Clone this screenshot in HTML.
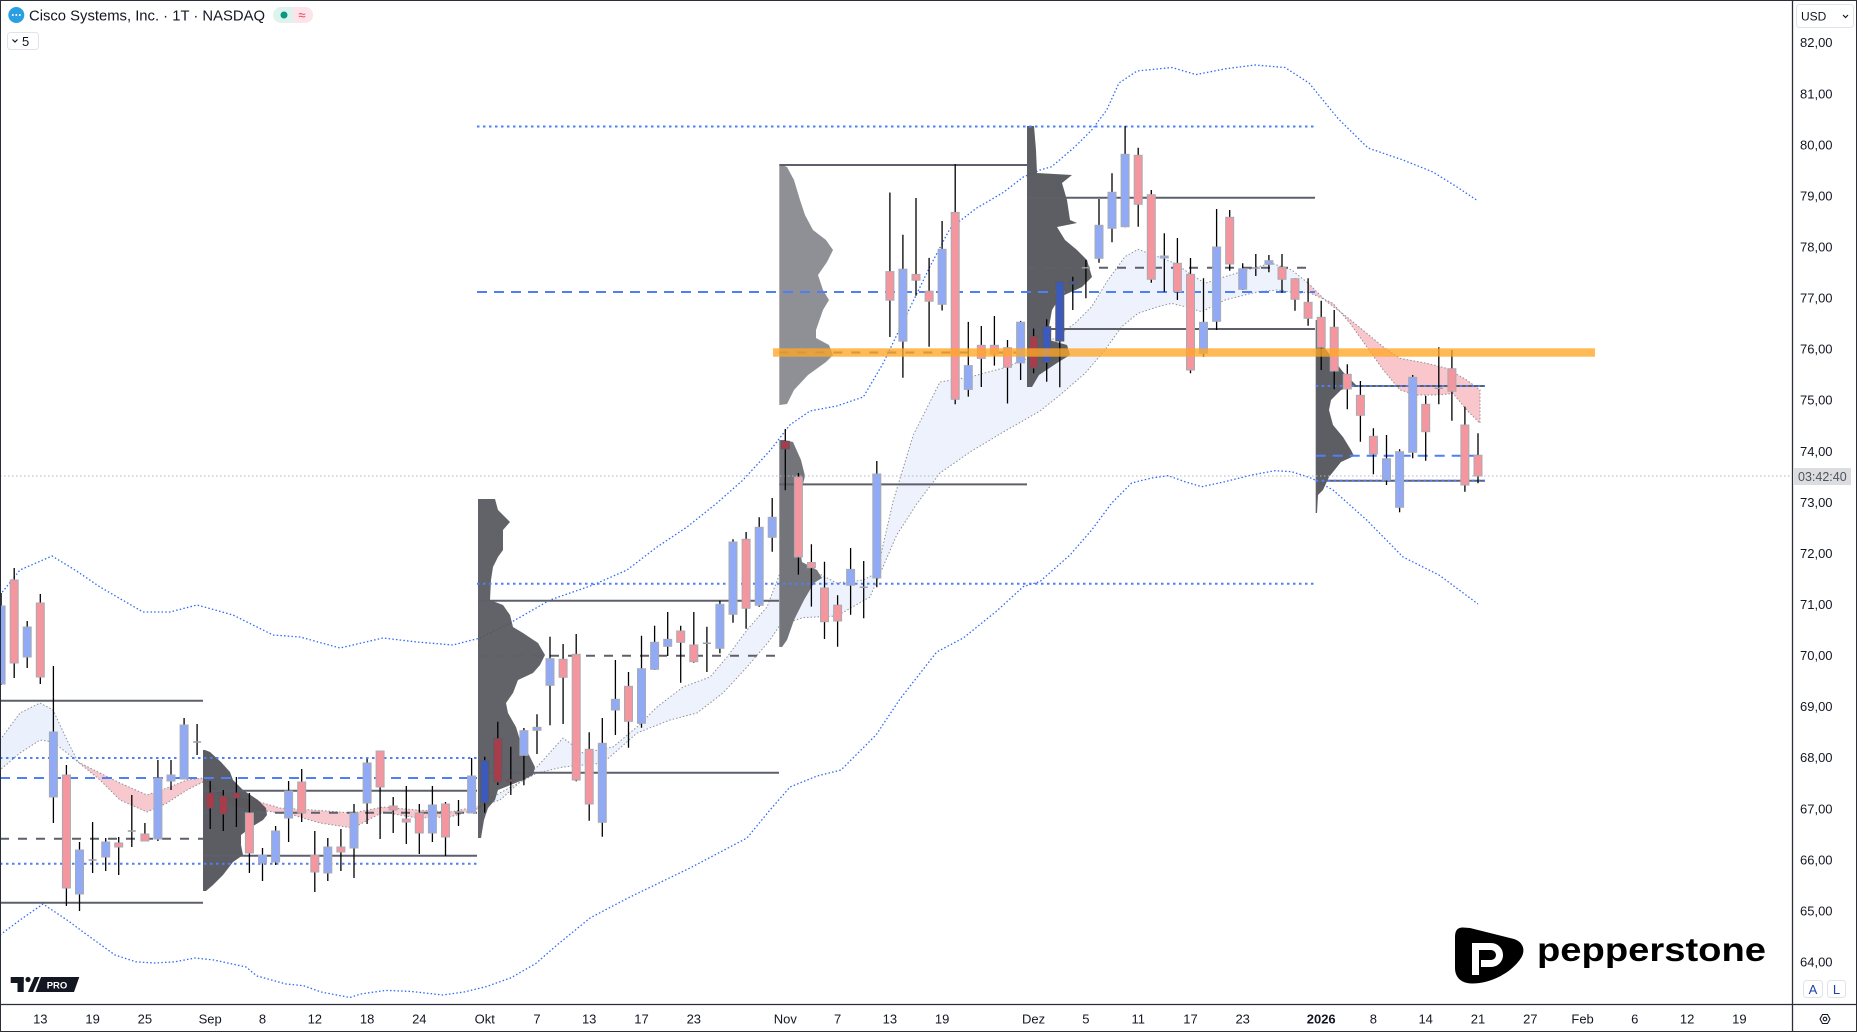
<!DOCTYPE html>
<html><head><meta charset="utf-8"><style>
html,body{margin:0;padding:0;background:#fff;overflow:hidden}
svg{display:block}
text{font-family:"Liberation Sans",Arial,sans-serif}
</style></head><body>
<svg width="1857" height="1032" viewBox="0 0 1857 1032" xmlns="http://www.w3.org/2000/svg">
<defs><clipPath id="c"><rect x="0" y="0" width="1792" height="1004"/></clipPath></defs>
<rect x="0" y="0" width="1857" height="1032" fill="#fff"/>
<g clip-path="url(#c)">
<!-- clouds -->
<g stroke="#8e9099" stroke-width="1" stroke-dasharray="1.5 2">
<polygon fill="#eaf0fc" points="0,740 20,713 40,703 53,710 67,740 78,762 67,753 53,742 40,740 20,753 0,770"/>
<polygon fill="#f7c9ce" points="78,762 100,773 120,783 147,795 167,788 187,780 203,778 227,798 253,800 280,808 313,810 353,813 383,807 417,810 450,812 480,806 480,808 450,817 417,818 383,812 353,828 320,823 293,815 260,810 233,806 203,782 187,790 167,803 147,812 120,800 100,780"/>
<polygon fill="#eef2fc" points="480,806 500,800 537,767 563,738 583,753 613,747 637,727 657,707 683,687 710,677 727,657 747,630 767,607 780,573 810,569 836.7,583 863.3,580 876.7,573 893.3,500.5 913.3,435 940,382 970,377 1003.3,368 1033.3,356 1051.7,340 1075,323.3 1091.7,306.7 1108,280 1125,256.7 1138,249.3 1158,256.7 1175,263.3 1191.7,275 1205,283.3 1225,276.7 1258,266.7 1271.7,263.3 1291.7,270 1308,283 1308,292 1298,293.3 1278,290 1258,291.7 1225,300 1201.7,311.7 1185,306.7 1171.7,303.3 1158,306.7 1138,313.3 1121.7,326.7 1105,350 1085,373.3 1058,396.7 1040,411 1003.3,432 970,452 940,473 916.7,504 896.7,535 870,597 836.7,616 803.3,617.6 780,625 770,640 747,667 723,693 697,713 670,720 637,733 603,763 563,767 537,773 487,800 480,808"/>
<polygon fill="#f8c6cb" points="1308,283 1326.7,301.7 1346.7,316.7 1366.7,333.3 1383,346.7 1400,358.3 1426.7,363.3 1446.7,368.3 1466.7,380 1480,390 1480,423.3 1466.7,410 1453,393.3 1440,395 1416.7,395 1400,390 1383.3,370 1366.7,346.7 1350,323.3 1333,303.3 1308,292"/>
</g>
<!-- bands -->
<g fill="none" stroke="#2f6af5" stroke-width="1.3" stroke-dasharray="1.5 2.2">
<polyline points="0,595 20,570 52,556 75,570 100,587 143,612 170,612 197,605 233,615 273,635 300,637 340,648 383,638 417,642 453,645 480,638 510,623 550,600 593,585 627,570 657,547 687,527 717,503 743,480 770,450.6 790,424.8 810,411 836.7,406 863.3,397 883.3,363 903.3,321.5 930,266.5 950,228.6 976.7,208 1003.3,192.5 1023.3,177 1040,170 1051.7,166.7 1075,146.7 1091.7,130 1106.7,110 1119,83 1137,71 1172,67.5 1196,74.6 1226,68.7 1255,65 1285,67.5 1309,83 1338,118.5 1368,148 1403,160 1433,172 1457,187 1478,201"/>
<polyline points="0,935 20,920 43,904 67,920 90,937 115,955 135.7,961.8 155,963 175,961.8 195,958 214,960 246,967 257,976 286,984 303.6,985.7 321,992 350,997.5 360.7,994 385.7,990.4 410.7,991.4 442.9,995 464,992 485.7,986.8 510.7,977.9 535.7,963.6 557,945 590,918 628,898 690,868 747,838 770,810 790,787 817,776 841,770 876,735 900,699 936.7,652 963.3,638 996.7,611 1023.3,586.6 1040,581.5 1070,555 1091.7,530 1111.7,503 1131.7,483 1151.7,478 1168,475.7 1185,481.7 1201.7,486.7 1225,481.7 1251.7,475 1275,470.7 1291.7,471.7 1311.7,478.3 1333,490 1366.7,520 1403,557 1439,575 1478,604"/>
</g>
<!-- profiles -->
<path fill="#4e4f55" fill-opacity="0.92" d="M203,750 L205,750 L210,752 L221,762 L230,772 L233,780 L243,790 L258,800 L266,808 L267,815 L263,820 L250,828 L241,835 L241,845 L243,855 L233,862 L223,875 L213,885 L206,891 L203,891 Z"/>
<path fill="#55565c" fill-opacity="0.92" d="M478,499 L495,499 L498,510 L510,522 L503,530 L503,550 L498,557 L493,567 L491,580 L490,600 L503,605 L510,615 L513,627 L523,633 L538,643 L545,655 L540,665 L533,673 L518,680 L513,693 L506,703 L508,713 L516,727 L520,740 L528,753 L535,767 L533,775 L523,780 L498,790 L495,800 L488,808 L484,820 L481,838 L478,838 Z"/>
<path fill="#8f9095" d="M779.3,165 L782,165 L787,167 L794,180 L800,200 L805,215 L813,230 L826,240 L833,250 L827,262 L818,275 L823,290 L829,300 L823,310 L816,330 L816,338 L829,345 L833,355 L826,362 L808,375 L794,390 L787,404 L779.3,405 Z"/>
<path fill="#74757b" d="M779.3,440 L784,440 L793,442 L801,460 L805,476 L799,500 L797,530 L802,562 L817,570 L822,578 L814,583 L804,600 L794,620 L787,640 L782,647 L779.3,647 Z"/>
<path fill="#54555b" fill-opacity="0.95" d="M1027,126 L1034,126 L1036,150 L1037,173 L1072,175 L1062,183 L1067,200 L1070,220 L1077,223 L1057,227 L1065,240 L1077,250 L1087,260 L1089,267 L1092,277 L1082,287 L1060,297 L1052,310 L1049,327 L1049,340 L1067,345 L1070,355 L1057,363 L1039,375 L1032,387 L1027,387 Z"/>
<path fill="#54555b" fill-opacity="0.95" d="M1315.7,320 L1318,320 L1321,335 L1324,347 L1334,360 L1343,372 L1351,380 L1356,385 L1341,390 L1331,400 L1329,410 L1333,425 L1343,437 L1351,450 L1354,456 L1341,462 L1329,477 L1323,490 L1318,495 L1317,513 L1315.7,513 Z"/>
<!-- level lines -->
<g stroke="#5d606b" stroke-width="2" fill="none">
<path d="M0,700.7H203 M0,902.7H203 M203,790.7H477 M203,855.7H477 M478,600.7H779 M478,772.7H779 M779.3,165H1027 M779.3,484.4H1027 M1027,197.7H1315 M1027,329H1315 M1315.7,386H1485 M1315.7,480.7H1485"/>
<path stroke-dasharray="9 9" d="M0,838.7H203 M203,812.7H477 M478,655.7H779 M779.3,352.5H1027 M1027,267.7H1315"/>
</g>
<g stroke="#4f7ff5" stroke-width="2" fill="none">
<path stroke-dasharray="2.5 3.5" d="M0,758H477 M0,863.7H477 M477,583.7H1315 M477,126.5H1315 M1315.7,386H1485 M1315.7,480.7H1485"/>
<path stroke-dasharray="10 7" d="M0,778H477 M477,292H1315 M1315.7,455.7H1485"/>
</g>
<!-- price line -->
<path d="M0,476H1792" stroke="#b2b5be" stroke-width="1" stroke-dasharray="1.5 2.5"/>
<!-- wicks -->
<path fill="none" stroke="#000" stroke-width="1.3" d="M1.1,593V685 M14.2,568V678 M27.2,621V668 M40.3,594V684 M53.4,666V823 M66.4,765V906 M79.5,842V911 M92.6,822V873 M105.7,838V871 M118.7,837V875 M131.8,795V847 M144.9,823V841 M157.9,760V841 M171,760V790 M184.1,718V779 M197.1,724V755 M210.2,781V829 M223.3,790V831 M236.4,777V827 M249.4,793V873 M262.5,848V881 M275.6,826V865 M288.6,781V842 M301.7,769V822 M314.8,831V892 M327.8,838V881 M340.9,829V871 M354,804V878 M367.1,759V824 M380.1,751V839 M393.2,797V833 M406.3,786V844 M419.3,804V854 M432.4,786V842 M445.5,802V856 M458.5,800V826 M471.6,758V813 M484.7,756.7V812.7 M497.8,721.7V785 M510.8,746.7V795 M523.9,728V785.3 M537,714.3V754 M550,636.7V725.3 M563.1,644V724 M576.2,634V781.3 M589.2,732.3V820.7 M602.3,718V836.7 M615.4,660V735 M628.5,672V747.7 M641.5,635.7V727.7 M654.6,625.7V670 M667.7,612V656 M680.7,625.7V682.7 M693.8,612V662.7 M706.9,626.7V672 M719.9,600.7V653.3 M733,539.3V622.7 M746.1,532V628.7 M759.2,517.3V606.7 M772.2,498V551.7 M785.3,429V490.2 M798.4,473V574.6 M811.4,544.3V606.6 M824.5,561.8V639 M837.6,595.2V646.8 M850.6,548V614.8 M863.7,561V618.3 M876.8,461V587.3 M889.9,192.5V337 M902.9,234.8V377.7 M916,198V295.7 M929.1,257.9V346.7 M942.1,221V310.5 M955.2,164.2V404.2 M968.3,321.9V396.6 M981.3,326V387 M994.4,316V365.6 M1007.5,340V403.5 M1020.6,320.9V380 M1033.6,328.5V373.2 M1046.7,319.3V381.7 M1059.8,281.7V387.3 M1072.8,276.7V310 M1085.9,260V298.3 M1099,199V262.7 M1112,173.3V242.3 M1125.1,126V227.3 M1138.2,147.7V226.7 M1151.3,190V282.7 M1164.3,233.3V291.7 M1177.4,238V300 M1190.5,258V373.3 M1203.5,278.3V356.7 M1216.6,209V330 M1229.7,210V270.7 M1242.7,263.3V290 M1255.8,254V276 M1268.9,255V272.3 M1282,254V292.7 M1295,278.3V310.7 M1308.1,278.3V325.7 M1321.2,300.7V370 M1334.2,310V389.3 M1347.3,364.3V409.3 M1360.4,381V441.7 M1373.4,428.3V474.3 M1386.5,435V485 M1399.6,449.3V512.3 M1412.7,375V458.3 M1425.7,395.7V460.7 M1438.8,347.3V404.3 M1451.9,350V420.7 M1464.9,406.7V491.7 M1478,433.3V483.3"/>
<!-- blue bodies -->
<g fill="#91aaf6" stroke="#a9abb3" stroke-width="1">
<rect x="-2.9" y="606" width="8" height="78"/><rect x="23.2" y="627" width="8" height="30"/><rect x="49.4" y="732" width="8" height="65"/><rect x="75.5" y="850" width="8" height="44"/><rect x="101.7" y="842" width="8" height="15"/><rect x="153.9" y="778" width="8" height="61"/><rect x="167" y="775" width="8" height="6"/><rect x="180.1" y="725" width="8" height="54"/><rect x="258.5" y="855" width="8" height="8"/><rect x="271.6" y="831" width="8" height="31"/><rect x="284.6" y="791" width="8" height="27"/><rect x="323.8" y="847" width="8" height="26"/><rect x="350" y="813" width="8" height="35"/><rect x="363.1" y="763" width="8" height="40"/><rect x="428.4" y="805" width="8" height="28"/><rect x="467.6" y="776" width="8" height="37"/><rect x="519.9" y="730.7" width="8" height="24.6"/><rect x="533" y="727.3" width="8" height="3"/><rect x="546" y="658.7" width="8" height="26.6"/><rect x="598.3" y="743.3" width="8" height="79"/><rect x="611.4" y="699.3" width="8" height="10.7"/><rect x="637.5" y="668.7" width="8" height="54.6"/><rect x="650.6" y="642.3" width="8" height="27"/><rect x="663.7" y="639.3" width="8" height="7"/><rect x="715.9" y="604.3" width="8" height="44"/><rect x="729" y="542" width="8" height="72.3"/><rect x="755.2" y="527.3" width="8" height="78"/><rect x="768.2" y="517.3" width="8" height="20"/><rect x="846.6" y="569.4" width="8" height="15.8"/><rect x="872.8" y="474" width="8" height="104"/><rect x="898.9" y="269.2" width="8" height="72"/><rect x="938.1" y="249.3" width="8" height="55"/><rect x="964.3" y="365.6" width="8" height="23.8"/><rect x="1016.6" y="322.2" width="8" height="40.7"/><rect x="1095" y="225.3" width="8" height="33"/><rect x="1108" y="192.3" width="8" height="36"/><rect x="1121.1" y="154.3" width="8" height="72.4"/><rect x="1160.3" y="256" width="8" height="2"/><rect x="1199.5" y="322.3" width="8" height="31"/><rect x="1212.6" y="247" width="8" height="74.3"/><rect x="1238.7" y="268.7" width="8" height="20.6"/><rect x="1264.9" y="260.7" width="8" height="3.6"/><rect x="1382.5" y="458.7" width="8" height="21.3"/><rect x="1395.6" y="451.7" width="8" height="55.6"/><rect x="1408.7" y="377.3" width="8" height="75"/>
</g>
<!-- pink bodies -->
<g fill="#f5969f" stroke="#a9abb3" stroke-width="1">
<rect x="10.2" y="580" width="8" height="83"/><rect x="36.3" y="603" width="8" height="74"/><rect x="62.4" y="775" width="8" height="113"/><rect x="114.7" y="843" width="8" height="4"/><rect x="140.9" y="834" width="8" height="7"/><rect x="245.4" y="813" width="8" height="40"/><rect x="297.7" y="782" width="8" height="31"/><rect x="310.8" y="855" width="8" height="17"/><rect x="336.9" y="847" width="8" height="5"/><rect x="376.1" y="751" width="8" height="36"/><rect x="389.2" y="806" width="8" height="4"/><rect x="402.3" y="819" width="8" height="3"/><rect x="415.3" y="813" width="8" height="20"/><rect x="441.5" y="804" width="8" height="33"/><rect x="559.1" y="659.3" width="8" height="18"/><rect x="572.2" y="654.3" width="8" height="125.7"/><rect x="585.2" y="749.3" width="8" height="54.7"/><rect x="624.5" y="686.3" width="8" height="35"/><rect x="676.7" y="631" width="8" height="11.3"/><rect x="689.8" y="645" width="8" height="16.7"/><rect x="742.1" y="539.3" width="8" height="69"/><rect x="794.4" y="477.1" width="8" height="79.9"/><rect x="807.4" y="562.5" width="8" height="5.2"/><rect x="820.5" y="588" width="8" height="33.7"/><rect x="833.6" y="605.2" width="8" height="15.8"/><rect x="885.9" y="271.6" width="8" height="28.6"/><rect x="912" y="274.4" width="8" height="5.8"/><rect x="925.1" y="291.2" width="8" height="10"/><rect x="951.2" y="212.4" width="8" height="186.9"/><rect x="977.3" y="345.3" width="8" height="13.1"/><rect x="990.4" y="345.3" width="8" height="8.9"/><rect x="1003.5" y="347.7" width="8" height="19.6"/><rect x="1134.2" y="155.3" width="8" height="49"/><rect x="1147.3" y="194.7" width="8" height="84.6"/><rect x="1173.4" y="263.3" width="8" height="28.4"/><rect x="1186.5" y="274.3" width="8" height="95.7"/><rect x="1225.7" y="217.3" width="8" height="46.7"/><rect x="1278" y="267.3" width="8" height="12"/><rect x="1291" y="278.7" width="8" height="20.6"/><rect x="1304.1" y="302.3" width="8" height="16"/><rect x="1317.2" y="317.3" width="8" height="30"/><rect x="1330.2" y="327.3" width="8" height="43.7"/><rect x="1343.3" y="374.3" width="8" height="14.7"/><rect x="1356.4" y="395.3" width="8" height="20"/><rect x="1369.4" y="436.3" width="8" height="17.7"/><rect x="1421.7" y="404.3" width="8" height="27.4"/><rect x="1447.9" y="368.7" width="8" height="22.6"/><rect x="1460.9" y="425" width="8" height="60"/><rect x="1474" y="455.3" width="8" height="20.7"/>
</g>
<!-- dark bodies -->
<g fill="#a83c4b" stroke="#5a5a60" stroke-width="1">
<rect x="206.2" y="793" width="8" height="15"/><rect x="219.3" y="796" width="8" height="18"/><rect x="232.4" y="793" width="8" height="5"/><rect x="493.8" y="738.7" width="8" height="43.3"/><rect x="506.8" y="779.7" width="8" height="1.6"/><rect x="781.3" y="441.3" width="8" height="7.6"/><rect x="1029.6" y="336.5" width="8" height="31.5"/>
</g>
<g fill="#3c5abe" stroke="#5a5a60" stroke-width="1">
<rect x="480.7" y="760.7" width="8" height="42"/><rect x="1042.7" y="326.7" width="8" height="35.6"/><rect x="1055.8" y="281.7" width="8" height="59.3"/><rect x="1068.8" y="281.7" width="8" height="2.3"/>
</g>
<!-- doji -->
<path stroke="#9a9ca4" stroke-width="1.5" d="M88.6,860h8 M127.8,831h8 M193.1,742h8 M454.5,812h8 M702.9,643.3h8 M859.7,587.3h8 M1081.9,267.7h8 M1251.8,268h8 M1434.8,388.3h8"/>
<!-- orange band -->
<rect x="773" y="348.3" width="822" height="8.4" fill="#ffa726" fill-opacity="0.78"/>
</g>

<!-- frame & axes -->
<rect x="0.5" y="0.5" width="1856" height="1031" fill="none" stroke="#2a2e39" stroke-width="1"/>
<path d="M1792.5,0V1032 M0,1004.5H1857" stroke="#2a2e39" stroke-width="1.3"/>

<!-- price labels -->
<g font-size="13" fill="#131722">
<text x="1800" y="47.2">82,00</text><text x="1800" y="98.3">81,00</text><text x="1800" y="149.3">80,00</text><text x="1800" y="200.4">79,00</text><text x="1800" y="251.5">78,00</text><text x="1800" y="302.6">77,00</text><text x="1800" y="353.6">76,00</text><text x="1800" y="404.7">75,00</text><text x="1800" y="455.8">74,00</text><text x="1800" y="506.8">73,00</text><text x="1800" y="557.9">72,00</text><text x="1800" y="609">71,00</text><text x="1800" y="660">70,00</text><text x="1800" y="711.1">69,00</text><text x="1800" y="762.2">68,00</text><text x="1800" y="813.3">67,00</text><text x="1800" y="864.3">66,00</text><text x="1800" y="915.4">65,00</text><text x="1800" y="966.5">64,00</text>
</g>
<rect x="1794" y="468" width="57" height="17" fill="#dcdde0"/>
<text x="1798" y="481" font-size="12.5" fill="#50535e">03:42:40</text>

<!-- USD -->
<rect x="1796.5" y="4.5" width="57" height="23" rx="3" fill="#fff" stroke="#e0e3eb"/>
<text x="1801" y="20.5" font-size="12" fill="#131722">USD</text>
<path d="M1843,15 l2.5,2.5 l2.5,-2.5" fill="none" stroke="#131722" stroke-width="1.2"/>

<!-- A L buttons -->
<rect x="1803.5" y="980.5" width="19" height="17" rx="3" fill="#fff" stroke="#e0e3eb"/>
<text x="1813" y="994" font-size="13" fill="#1e3fae" text-anchor="middle">A</text>
<rect x="1827.5" y="980.5" width="18" height="17" rx="3" fill="#fff" stroke="#e0e3eb"/>
<text x="1836.5" y="994" font-size="13" fill="#1e3fae" text-anchor="middle">L</text>
<!-- gear -->
<polygon points="1820,1019 1822.5,1014.5 1827.5,1014.5 1830,1019 1827.5,1023.5 1822.5,1023.5" fill="none" stroke="#131722" stroke-width="1.1"/>
<circle cx="1825" cy="1019" r="1.8" fill="none" stroke="#131722" stroke-width="1.1"/>

<!-- time labels -->
<g font-size="13" fill="#131722" text-anchor="middle">
<text x="40.3" y="1023.5">13</text><text x="92.6" y="1023.5">19</text><text x="144.9" y="1023.5">25</text><text x="210.2" y="1023.5">Sep</text><text x="262.5" y="1023.5">8</text><text x="314.8" y="1023.5">12</text><text x="367.1" y="1023.5">18</text><text x="419.3" y="1023.5">24</text><text x="484.7" y="1023.5">Okt</text><text x="537" y="1023.5">7</text><text x="589.2" y="1023.5">13</text><text x="641.5" y="1023.5">17</text><text x="693.8" y="1023.5">23</text><text x="785.3" y="1023.5">Nov</text><text x="837.6" y="1023.5">7</text><text x="889.9" y="1023.5">13</text><text x="942.1" y="1023.5">19</text><text x="1033.6" y="1023.5">Dez</text><text x="1085.9" y="1023.5">5</text><text x="1138.2" y="1023.5">11</text><text x="1190.5" y="1023.5">17</text><text x="1242.7" y="1023.5">23</text><text x="1321.2" y="1023.5" font-weight="bold">2026</text><text x="1373.4" y="1023.5">8</text><text x="1425.7" y="1023.5">14</text><text x="1478" y="1023.5">21</text><text x="1530.3" y="1023.5">27</text><text x="1582.6" y="1023.5">Feb</text><text x="1634.8" y="1023.5">6</text><text x="1687.1" y="1023.5">12</text><text x="1739.4" y="1023.5">19</text>
</g>

<!-- header -->
<circle cx="16.3" cy="15" r="8" fill="#2a9fe2"/>
<g fill="#fff"><circle cx="12.8" cy="15" r="1"/><circle cx="16.3" cy="15" r="1"/><circle cx="19.8" cy="15" r="1"/></g>
<text x="29" y="20.5" font-size="15" fill="#131722" textLength="236" lengthAdjust="spacingAndGlyphs">Cisco Systems, Inc. · 1T · NASDAQ</text>
<path d="M281,7 h12 v16 h-12 a8,8 0 0 1 0,-16 z" fill="#dff3ee"/>
<path d="M293,7 h12 a8,8 0 0 1 0,16 h-12 z" fill="#fde3ea"/>
<circle cx="284" cy="15" r="3.5" fill="#089981"/>
<text x="302" y="19.5" font-size="13" fill="#f23645" text-anchor="middle">≈</text>
<rect x="7.5" y="32.5" width="31" height="17" rx="3" fill="#fff" stroke="#e0e3eb"/>
<path d="M12.5,39.5 l2.5,2.5 l2.5,-2.5" fill="none" stroke="#131722" stroke-width="1.2"/>
<text x="22" y="46" font-size="13" fill="#131722">5</text>

<!-- TV logo -->
<g fill="#131722">
<rect x="10.7" y="977" width="13" height="6"/>
<rect x="17.5" y="977" width="6.2" height="15"/>
<circle cx="28" cy="979.5" r="2.6"/>
<polygon points="28,992 33,992 39.5,977 34.5,977"/>
<polygon points="41,977 79.3,977 74,992 35.5,992"/>
</g>
<text x="57" y="988.5" font-size="9.5" font-weight="bold" fill="#fff" text-anchor="middle">PRO</text>

<!-- pepperstone -->
<path d="M1463,927.5 C1457,927.5 1455,931 1455,937 L1455,968 C1455,978 1462,983.5 1472,983.5 C1492,983.5 1512,972 1521,958 C1526,950 1523,942 1514,939 L1470,928 Z" fill="#000"/>
<path d="M1475.5,975 L1475.5,946.5 L1491,946.5 A8.5,8.5 0 0 1 1491,963.5 L1481,963.5" fill="none" stroke="#fff" stroke-width="7"/>
<text x="1537" y="961" font-size="33" font-weight="bold" fill="#000" textLength="229" lengthAdjust="spacingAndGlyphs">pepperstone</text>
</svg>
</body></html>
